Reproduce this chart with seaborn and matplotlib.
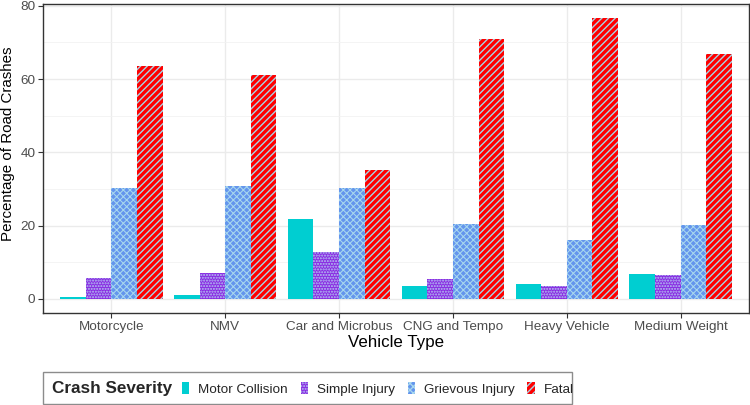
import matplotlib
matplotlib.use("Agg")
import matplotlib.pyplot as plt
import seaborn as sns
import pandas as pd
from matplotlib.patches import Rectangle, Patch

vehicles = ["Motorcycle", "NMV", "Car and Microbus", "CNG and Tempo",
            "Heavy Vehicle", "Medium Weight"]
severities = ["Motor Collision", "Simple Injury", "Grievous Injury", "Fatal"]
motor_collision = [0.6, 1.2, 21.8, 3.5, 4.0, 6.8]
simple_injury = [5.8, 7.1, 12.8, 5.4, 3.5, 6.4]
grievous_injury = [30.2, 30.8, 30.4, 20.4, 16.2, 20.1]
fatal = [63.7, 61.2, 35.1, 70.9, 76.7, 66.8]
y_ticks = [0, 20, 40, 60, 80]

series = {"Motor Collision": motor_collision, "Simple Injury": simple_injury,
          "Grievous Injury": grievous_injury, "Fatal": fatal}
rows = []
for sev in severities:
    for v, val in zip(vehicles, series[sev]):
        rows.append({"Vehicle": v, "Severity": sev, "Pct": val})
df = pd.DataFrame(rows)

face = {"Motor Collision": "#00CED1", "Simple Injury": "#8A2BE2",
        "Grievous Injury": "#6495ED", "Fatal": "#FF0000"}
hatch_col = {"Motor Collision": "#00CED1", "Simple Injury": "#B4C8F2",
             "Grievous Injury": "#A8D8EE", "Fatal": "#A8D4E6"}
hatches = {"Motor Collision": "", "Simple Injury": "......",
           "Grievous Injury": "xxxxx", "Fatal": "/////"}
hatch_lw = {"Motor Collision": 1.0, "Simple Injury": 1.0,
            "Grievous Injury": 0.75, "Fatal": 1.0}

sns.set_theme(style="white")
plt.rcParams["font.family"] = ["Liberation Sans", "DejaVu Sans"]
plt.rcParams["hatch.linewidth"] = 1.0

fig = plt.figure(figsize=(7.5, 4.05), dpi=100)
ax = fig.add_axes([43 / 750, 1 - 313 / 405, 706 / 750, 309 / 405])

sns.barplot(data=df, x="Vehicle", y="Pct", hue="Severity", order=vehicles,
            hue_order=severities, palette=face, width=0.9, gap=0,
            saturation=1, ax=ax, legend=False, errorbar=None, zorder=3)

for sev, cont in zip(severities, ax.containers):
    for bar in cont:
        bar.set_facecolor(face[sev])
        bar.set_edgecolor(hatch_col[sev])
        bar.set_linewidth(0)
        bar.set_hatch(hatches[sev])
        if hasattr(bar, "set_hatch_linewidth"):
            bar.set_hatch_linewidth(hatch_lw[sev])

ax.set_xlim(-0.6, 5.6)
ax.set_ylim(-3.84, 80.5)
ax.set_yticks(y_ticks)
ax.set_yticks([10, 30, 50, 70], minor=True)
ax.grid(True, which="major", color="#EBEBEB", linewidth=1.0, zorder=0)
ax.grid(True, which="minor", axis="y", color="#F2F2F2", linewidth=0.6, zorder=0)
ax.set_axisbelow(True)
for s in ax.spines.values():
    s.set_color("#333333")
    s.set_linewidth(1.0)
ax.tick_params(axis="both", which="major", length=3.5, width=0.8, color="#333333",
               labelsize=9.7, labelcolor="#4D4D4D", pad=2, left=True, bottom=True)
ax.tick_params(axis="y", which="minor", length=0)
ax.set_xlabel("Vehicle Type", fontsize=12.2, color="black", labelpad=2)
ax.set_ylabel("Percentage of Road Crashes", fontsize=10.9, color="black")
ax.yaxis.set_label_coords(-0.040, 0.547)

# legend
fig.patches.append(Rectangle((43 / 750, 1 - 404 / 405), 529 / 750, 32 / 405,
                             transform=fig.transFigure, facecolor="white",
                             edgecolor="#8C8C8C", linewidth=1.0))
fig.text(52 / 750, 1 - 389 / 405, "Crash Severity", fontsize=12.3,
         fontweight="bold", ha="left", va="center")
handles = []
for sev in severities:
    p = Patch(facecolor=face[sev], edgecolor=hatch_col[sev], hatch=hatches[sev],
              linewidth=0, label=sev)
    handles.append(p)
fig.legend(handles=handles, loc="center left",
           bbox_to_anchor=(182 / 750, 1 - 389 / 405), ncol=4, frameon=False,
           fontsize=9.7, handlelength=0.55, handleheight=0.95, handletextpad=0.65,
           columnspacing=0.95, borderpad=0, borderaxespad=0)

fig.savefig("out.png", dpi=100)
